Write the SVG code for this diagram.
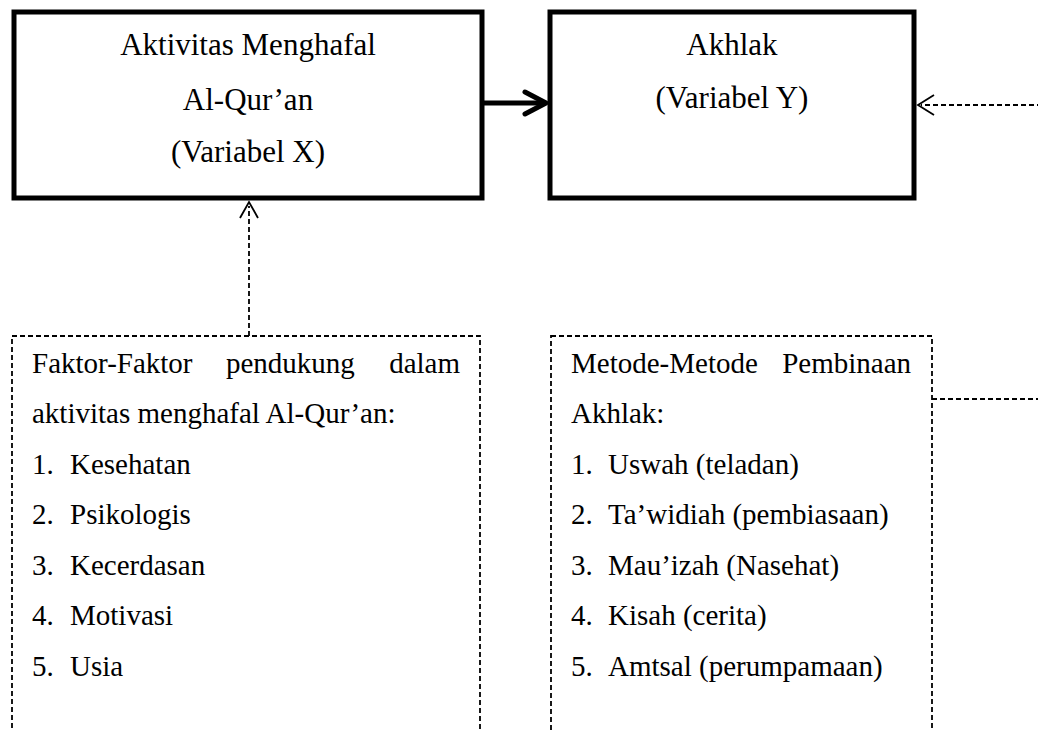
<svg xmlns="http://www.w3.org/2000/svg" width="1038" height="731" viewBox="0 0 1038 731">
<style>
.main{fill:#fff;stroke:#000;stroke-width:5}
.dbox{fill:none;stroke:#000;stroke-width:1.8;stroke-dasharray:5 3}
.t{font-family:"Liberation Serif","Times New Roman",serif;fill:#000}
.top{font-size:31px;text-anchor:middle}
.body{font-size:29px}
.dash{fill:none;stroke:#000;stroke-width:1.8;stroke-dasharray:5 3}
.head{fill:none;stroke:#000;stroke-width:1.8}
</style>
<rect width="1038" height="731" fill="#fff"/>
<g id="connectors">
<path d="M484,103 H544" fill="none" stroke="#000" stroke-width="5"/>
<path d="M525,92 L546,103 L525,114" fill="none" stroke="#000" stroke-width="5" stroke-linecap="round" stroke-linejoin="round"/>
<path class="dash" d="M249,336 V206"/>
<path class="head" d="M240,218 L249,202 L258,218"/>
<path class="dash" d="M932,399 H1060 V105 H921"/>
<path class="head" d="M934,95 L918,105 L934,115"/>
</g>
<g id="nodeX">
<rect class="main" x="14" y="12" width="468" height="186"/>
<text class="t top" x="248" y="55">Aktivitas Menghafal</text>
<text class="t top" x="248" y="110">Al-Qur’an</text>
<text class="t top" x="248" y="162">(Variabel X)</text>
</g>
<g id="nodeY">
<rect class="main" x="550" y="12" width="364" height="186"/>
<text class="t top" x="732" y="55">Akhlak</text>
<text class="t top" x="732" y="108">(Variabel Y)</text>
</g>
<g id="faktor">
<rect class="dbox" x="12" y="336" width="468" height="420"/>
<text class="t body" x="32" y="373">Faktor-Faktor</text>
<text class="t body" x="226" y="373">pendukung</text>
<text class="t body" x="460" y="373" text-anchor="end">dalam</text>
<text class="t body" x="32" y="423">aktivitas menghafal Al-Qur’an:</text>
<text class="t body" x="32" y="474">1.</text><text class="t body" x="70" y="474">Kesehatan</text>
<text class="t body" x="32" y="524">2.</text><text class="t body" x="70" y="524">Psikologis</text>
<text class="t body" x="32" y="575">3.</text><text class="t body" x="70" y="575">Kecerdasan</text>
<text class="t body" x="32" y="625">4.</text><text class="t body" x="70" y="625">Motivasi</text>
<text class="t body" x="32" y="676">5.</text><text class="t body" x="70" y="676">Usia</text>
</g>
<g id="metode">
<rect class="dbox" x="551" y="336" width="381" height="420"/>
<text class="t body" x="571" y="373">Metode-Metode</text>
<text class="t body" x="911" y="373" text-anchor="end">Pembinaan</text>
<text class="t body" x="571" y="423">Akhlak:</text>
<text class="t body" x="571" y="474">1.</text><text class="t body" x="608" y="474">Uswah (teladan)</text>
<text class="t body" x="571" y="524">2.</text><text class="t body" x="608" y="524">Ta’widiah (pembiasaan)</text>
<text class="t body" x="571" y="575">3.</text><text class="t body" x="608" y="575">Mau’izah (Nasehat)</text>
<text class="t body" x="571" y="625">4.</text><text class="t body" x="608" y="625">Kisah (cerita)</text>
<text class="t body" x="571" y="676">5.</text><text class="t body" x="608" y="676">Amtsal (perumpamaan)</text>
</g>
</svg>
